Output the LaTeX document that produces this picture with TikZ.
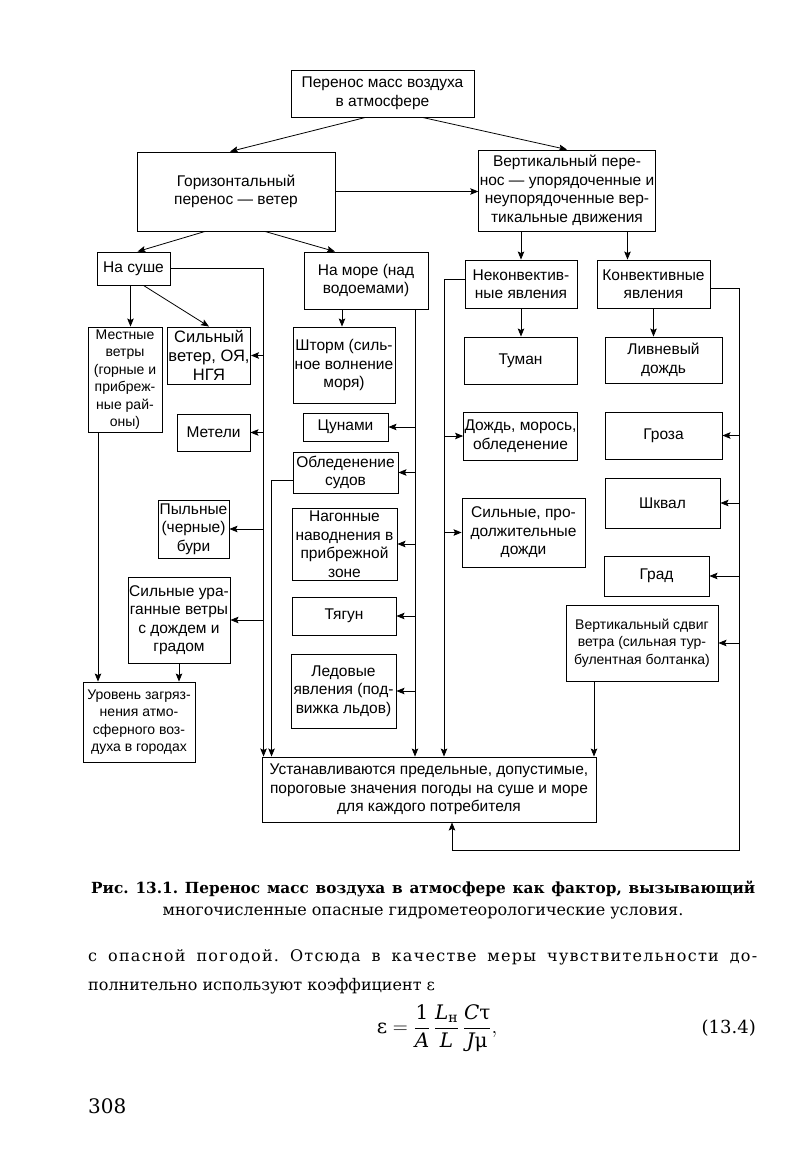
\documentclass[tikz,border=0pt]{standalone}
\usepackage{amsmath}
\usepackage{fontspec}
\setmainfont{DejaVu Serif}
\newfontfamily\boxfont{Liberation Sans}
\usetikzlibrary{arrows.meta, positioning, calc}
\frenchspacing

\begin{document}
\begin{tikzpicture}[x=1pt, y=-1pt,
  box/.style={rectangle, draw, line width=0.9pt, align=center, inner sep=1pt,
              font=\boxfont\fontsize{15.5}{18.5}\selectfont},
  smallbox/.style={font=\boxfont\fontsize{14}{17.5}\selectfont},
  arr/.style={-{Stealth[length=8pt, width=6.5pt, inset=1.5pt]}, line width=0.8pt},
  txt/.style={inner sep=0pt, font=\fontsize{16}{20}\selectfont},
  body/.style={inner sep=0pt, font=\fontsize{16}{22}\selectfont}
]
\useasboundingbox[fill=white] (0,0) rectangle (796,1153);

% top levels
\node[box, minimum width=183, minimum height=47] (top) at (382.5,93.5)
  {Перенос масс воздуха\\в атмосфере};
\node[box, minimum width=198, minimum height=79] (horiz) at (236,191.5)
  {Горизонтальный\\перенос — ветер};
\node[box, minimum width=174, minimum height=81] (vert) at (567,190.5)
  {Вертикальный пере-\\нос — упорядоченные и\\неупорядоченные вер-\\тикальные движения};
\node[box, minimum width=73, minimum height=33] (sushe) at (133.5,268.5) {На суше};
\node[box, minimum width=124, minimum height=57] (more) at (366,280.5)
  {На море (над\\водоемами)};
\node[box, minimum width=112, minimum height=48] (nonconv) at (521,284)
  {Неконвектив-\\ные явления};
\node[box, minimum width=113, minimum height=48] (conv) at (653.5,284)
  {Конвективные\\явления};

% land
\node[box, smallbox, minimum width=74, minimum height=105] (mestnye) at (125,379.5)
  {Местные\\ветры\\(горные и\\прибреж-\\ные рай-\\оны)};
\node[box, minimum width=82, minimum height=57, font=\boxfont\fontsize{16.5}{19}\selectfont]
  (silwind) at (209,355.5) {Сильный\\ветер, ОЯ,\\НГЯ};
\node[box, minimum width=73, minimum height=37] (meteli) at (213.5,432.5) {Метели};
\node[box, minimum width=71, minimum height=58] (dust) at (193.5,529)
  {Пыльные\\(черные)\\бури};
\node[box, minimum width=102, minimum height=86] (hurricane) at (179,620)
  {Сильные ура-\\ганные ветры\\с дождем и\\градом};
\node[box, smallbox, minimum width=112, minimum height=80] (uroven) at (139,722)
  {Уровень загряз-\\нения атмо-\\сферного воз-\\духа в городах};

% sea
\node[box, minimum width=102, minimum height=76] (storm) at (344,365)
  {Шторм (силь-\\ное волнение\\моря)};
\node[box, minimum width=85, minimum height=28] (tsunami) at (345.5,427) {Цунами};
\node[box, minimum width=105, minimum height=41] (icing) at (345.5,472.5)
  {Обледенение\\судов};
\node[box, minimum width=105, minimum height=72] (surge) at (344.5,544)
  {Нагонные\\наводнения в\\прибрежной\\зоне};
\node[box, minimum width=104, minimum height=38] (tyagun) at (344,616) {Тягун};
\node[box, minimum width=105, minimum height=74] (ice) at (343.5,691)
  {Ледовые\\явления (под-\\вижка льдов)};

% vertical
\node[box, minimum width=113, minimum height=47] (fog) at (520.5,360.5) {Туман};
\node[box, minimum width=113, minimum height=48] (rain) at (520.5,436)
  {Дождь, морось,\\обледенение};
\node[box, minimum width=123, minimum height=69] (longrain) at (523.5,532.5)
  {Сильные, про-\\должительные\\дожди};
\node[box, minimum width=117, minimum height=46] (shower) at (663.5,360)
  {Ливневый\\дождь};
\node[box, minimum width=117, minimum height=47] (groza) at (663.5,435.5) {Гроза};
\node[box, minimum width=115, minimum height=50] (squall) at (662.5,503) {Шквал};
\node[box, minimum width=105, minimum height=40] (hail) at (656.5,576) {Град};
\node[box, smallbox, minimum width=152, minimum height=76] (shear) at (642,643)
  {Вертикальный сдвиг\\ветра (сильная тур-\\булентная болтанка)};

\node[box, minimum width=334, minimum height=65] (bottom) at (429,789.5)
  {Устанавливаются предельные, допустимые,\\пороговые значения погоды на суше и море\\для каждого потребителя};

\coordinate (landtrunk) at ([xshift=2]bottom.north west);
\coordinate (icetrunk) at ([xshift=10]bottom.north west);
\coordinate (seatrunk) at ([xshift=49]more.south);
\coordinate (nctrunk) at ([xshift=15]bottom.north);
\coordinate (ctrunk) at (739,850);

\draw[arr] ([xshift=-17]top.south) -- ([xshift=-6]horiz.north);
\draw[arr] ([xshift=40]top.south) -- (vert.north);
\draw[arr] (horiz.east) -- (horiz.east -| vert.west);
\draw[arr] ([xshift=-31]horiz.south) -- ([xshift=4]sushe.north);
\draw[arr] ([xshift=29]horiz.south) -- ([xshift=-31]more.north);
\draw[arr] (nonconv.north |- vert.south) -- (nonconv.north);
\draw[arr] ([xshift=-26]conv.north |- vert.south) -- ([xshift=-26]conv.north);

\draw[arr] (sushe.east) -| (landtrunk);
\foreach \n in {silwind, meteli, dust, hurricane}
  \draw[arr] (\n.east -| landtrunk) -- (\n.east);
\draw[arr] ([xshift=-3]sushe.south) -- ([xshift=-3]sushe.south |- mestnye.north);
\draw[arr] ([xshift=10]sushe.south) -- (silwind.north);
\draw[arr] ([xshift=-27]mestnye.south) -- ([xshift=-27]mestnye.south |- uroven.north);
\draw[arr] (hurricane.south) -- (hurricane.south |- uroven.north);

\draw[arr] ([xshift=-24]more.south) -- ([xshift=-24]more.south |- storm.north);
\draw[arr] (seatrunk) -- (seatrunk |- bottom.north);
\foreach \n in {tsunami, icing, surge, tyagun, ice}
  \draw[arr] (\n.east -| seatrunk) -- (\n.east);
\draw[arr] ([yshift=-8]icing.west) -| (icetrunk);

\draw[arr] (nonconv.south) -- (nonconv.south |- fog.north);
\draw[arr] ([yshift=5]nonconv.west) -| (nctrunk);
\foreach \n in {rain, longrain}
  \draw[arr] (\n.west -| nctrunk) -- (\n.west);

\draw[arr] (conv.south) -- (conv.south |- shower.north);
\draw[arr] ([yshift=-4]conv.east) -| (ctrunk) -| ([xshift=23]bottom.south);
\foreach \n in {groza, squall, hail, shear}
  \draw[arr] (\n.east -| ctrunk) -- (\n.east);
\draw[arr] ([xshift=-48]shear.south) -- ([xshift=-48]shear.south |- bottom.north);

% caption and text
\node[txt, anchor=base west, font=\fontsize{15.3}{20}\selectfont\bfseries] (cap1) at (91,893)
  {\makebox[664pt][s]{Рис. 13.1. Перенос масс воздуха в атмосфере как фактор, вызывающий}};
\node[txt, anchor=base] (cap2) at (423,915)
  {многочисленные опасные гидрометеорологические условия.};
\node[body, anchor=base west] (par1) at (88,961)
  {\addfontfeature{LetterSpace=8}\makebox[669pt][s]{с опасной погодой. Отсюда в качестве меры чувствительности до-}};
\node[body, anchor=base west] (par2) at (88,990)
  {полнительно используют коэффициент ε};
\node[body, font=\fontsize{20}{24}\selectfont] (eq) at (437,1028)
  {$\displaystyle \text{ε} = \frac{\text{1}}{\text{\itshape A}}\,\frac{\text{\itshape L}_{\text{н}}}{\text{\itshape L}}\,\frac{\text{\itshape C}\text{τ}}{\text{\itshape J}\text{μ}},$};
\node[body, anchor=east, font=\fontsize{18}{22}\selectfont] (eqno) at (756,1028) {(13.4)};
\node[body, anchor=base west, font=\fontsize{20}{24}\selectfont] (pagenum) at (88,1113) {308};
\end{tikzpicture}
\end{document}
